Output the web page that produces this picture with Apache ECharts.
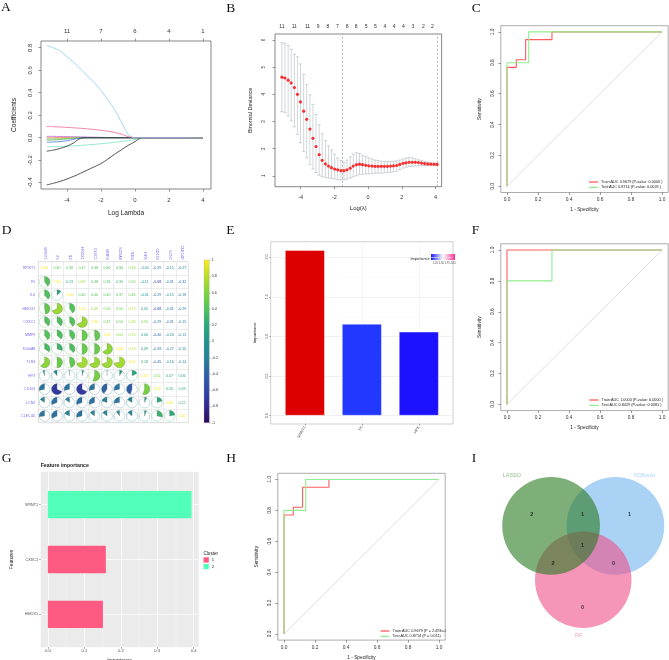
<!DOCTYPE html>
<html>
<head>
<meta charset="utf-8">
<script src="https://cdn.jsdelivr.net/npm/echarts@6/dist/echarts.min.js"></script>
<style>
  body { margin: 0; background: #fff; }
  #wrap { position: relative; width: 669px; height: 660px; }
  .p { position: absolute; }
</style>
</head>
<body>
<div id="wrap">
  <div class="p" id="pA" style="left:0;top:0;width:223px;height:220px"></div>
  <div class="p" id="pB" style="left:223px;top:0;width:223px;height:220px"></div>
  <div class="p" id="pC" style="left:446px;top:0;width:223px;height:220px"></div>
  <div class="p" id="pD" style="left:0;top:220px;width:223px;height:220px"></div>
  <div class="p" id="pE" style="left:223px;top:220px;width:240px;height:220px"></div>
  <div class="p" id="pF" style="left:446px;top:220px;width:223px;height:220px"></div>
  <div class="p" id="pG" style="left:0;top:440px;width:223px;height:220px"></div>
  <div class="p" id="pH" style="left:223px;top:440px;width:223px;height:220px"></div>
  <div class="p" id="pI" style="left:446px;top:440px;width:223px;height:220px"></div>
</div>
<script>
// ---------------- data ----------------

// A: lasso coefficient paths
var lamA = [-5.2, -4.8, -4.4, -4.0, -3.6, -3.2, -2.8, -2.4, -2.0, -1.6, -1.2, -0.8, -0.4, 0.0, 0.4, 0.8, 1.2, 1.6, 2.0, 2.4, 2.8, 3.2, 3.6, 4.0];
var coefSky = [0.82, 0.80, 0.77, 0.72, 0.67, 0.61, 0.55, 0.49, 0.42, 0.34, 0.25, 0.14, 0.03, 0, 0, 0, 0, 0, 0, 0, 0, 0, 0, 0];
var coefPink = [0.100, 0.098, 0.095, 0.092, 0.088, 0.084, 0.079, 0.073, 0.066, 0.058, 0.047, 0.032, 0.010, 0, 0, 0, 0, 0, 0, 0, 0, 0, 0, 0];
var coefBlackA = [-0.420, -0.405, -0.388, -0.367, -0.343, -0.316, -0.287, -0.259, -0.230, -0.190, -0.147, -0.107, -0.068, -0.035, 0, 0, 0, 0, 0, 0, 0, 0, 0, 0];
var coefBlackB = [-0.120, -0.110, -0.095, -0.075, -0.045, -0.005, 0, 0, 0, 0, 0, 0, 0, 0, 0, 0, 0, 0, 0, 0, 0, 0, 0, 0];
var coefAqua = [-0.080, -0.079, -0.077, -0.075, -0.072, -0.068, -0.064, -0.059, -0.054, -0.048, -0.041, -0.034, -0.026, -0.017, -0.006, 0, 0, 0, 0, 0, 0, 0, 0, 0];
var coefBlue = [-0.040, -0.038, -0.034, -0.027, -0.015, -0.002, 0, 0, 0, 0, 0, 0, 0, 0, 0, 0, 0, 0, 0, 0, 0, 0, 0, 0];
var coefGreen = [-0.022, -0.020, -0.016, -0.011, -0.005, 0, 0, 0, 0, 0, 0, 0, 0, 0, 0, 0, 0, 0, 0, 0, 0, 0, 0, 0];
var coefLime = [-0.012, -0.011, -0.009, -0.006, -0.002, 0, 0, 0, 0, 0, 0, 0, 0, 0, 0, 0, 0, 0, 0, 0, 0, 0, 0, 0];
var coefPurple = [0.012, 0.012, 0.011, 0.010, 0.009, 0.008, 0.006, 0.005, 0.003, 0.001, 0, 0, 0, 0, 0, 0, 0, 0, 0, 0, 0, 0, 0, 0];
var coefCoral = [0.005, 0.004, 0.003, 0.001, 0, 0, 0, 0, 0, 0, 0, 0, 0, 0, 0, 0, 0, 0, 0, 0, 0, 0, 0, 0];
var coefGrey = [-0.005, -0.004, -0.002, 0, 0, 0, 0, 0, 0, 0, 0, 0, 0, 0, 0, 0, 0, 0, 0, 0, 0, 0, 0, 0];
var pathsA = [coefGrey, coefCoral, coefPurple, coefLime, coefGreen, coefBlue, coefAqua, coefBlackB, coefBlackA, coefPink, coefSky];
var pathColorsA = ['#a0a0a0', '#ff8c69', '#c070d0', '#a8d84a', '#4cb860', '#4a78e0', '#7ae8c0', '#2a2a2a', '#2a2a2a', '#ee6a96', '#8ccbec'];
var lassoTopAt = [-4, -2, 0, 2, 4];
var lassoTopDf = [11, 7, 6, 4, 1];

// B: cross-validation curve
var cvLambda = [-5.11, -4.93, -4.74, -4.56, -4.37, -4.19, -4.01, -3.82, -3.64, -3.45, -3.27, -3.09, -2.90, -2.72, -2.53, -2.35, -2.17, -1.98, -1.80, -1.61, -1.43, -1.25, -1.06, -0.88, -0.69, -0.51, -0.33, -0.14, 0.04, 0.23, 0.41, 0.59, 0.78, 0.96, 1.15, 1.33, 1.51, 1.70, 1.88, 2.07, 2.25, 2.43, 2.62, 2.80, 2.99, 3.17, 3.35, 3.54, 3.72, 3.91, 4.09];
var cvMean = [4.63, 4.60, 4.52, 4.42, 4.25, 4.00, 3.72, 3.38, 3.08, 2.72, 2.38, 2.08, 1.78, 1.57, 1.44, 1.36, 1.30, 1.25, 1.22, 1.19, 1.19, 1.22, 1.28, 1.36, 1.41, 1.43, 1.41, 1.39, 1.37, 1.36, 1.35, 1.35, 1.35, 1.35, 1.35, 1.36, 1.37, 1.38, 1.42, 1.46, 1.48, 1.50, 1.50, 1.50, 1.49, 1.47, 1.45, 1.44, 1.43, 1.43, 1.42];
var cvUpper = [5.90, 5.88, 5.80, 5.66, 5.48, 5.38, 5.12, 4.73, 4.37, 3.98, 3.63, 3.26, 2.88, 2.55, 2.30, 2.10, 1.95, 1.80, 1.66, 1.56, 1.50, 1.58, 1.70, 1.80, 1.85, 1.82, 1.76, 1.71, 1.66, 1.62, 1.58, 1.56, 1.54, 1.53, 1.53, 1.53, 1.54, 1.55, 1.58, 1.62, 1.65, 1.67, 1.66, 1.63, 1.59, 1.56, 1.53, 1.50, 1.48, 1.46, 1.45];
var cvLower = [3.36, 3.32, 3.20, 3.02, 2.80, 2.52, 2.22, 1.90, 1.66, 1.42, 1.25, 1.12, 1.02, 0.97, 0.94, 0.92, 0.90, 0.88, 0.86, 0.85, 0.86, 0.88, 0.92, 0.96, 1.00, 1.04, 1.06, 1.07, 1.07, 1.08, 1.09, 1.10, 1.10, 1.11, 1.12, 1.13, 1.15, 1.17, 1.22, 1.28, 1.32, 1.34, 1.35, 1.36, 1.37, 1.37, 1.38, 1.38, 1.39, 1.39, 1.39];
var cvTopAt = [-5.11, -4.38, -3.59, -2.96, -2.39, -1.82, -1.24, -0.71, -0.12, 0.43, 1.00, 1.55, 2.10, 2.66, 3.28, 3.82];
var cvTopDf = [11, 11, 11, 9, 8, 7, 8, 8, 5, 5, 4, 4, 4, 3, 2, 2];
var cvMarks = [-1.55, 4.12];

// C, F, H: ROC curves
var rocTicks = [0, 0.2, 0.4, 0.6, 0.8, 1];
var diagX = [0, 1];
var lassoTrainFpr = [0, 0, 0.06, 0.06, 0.12, 0.12, 0.29, 0.29, 1];
var lassoTrainTpr = [0, 0.77, 0.77, 0.82, 0.82, 0.95, 0.95, 1, 1];
var lassoTestFpr = [0, 0, 0.14, 0.14, 1];
var lassoTestTpr = [0, 0.80, 0.80, 1, 1];
var rfTrainFpr = [0, 0, 1];
var rfTrainTpr = [0, 1, 1];
var rfTestFpr = [0, 0, 0.29, 0.29, 1];
var rfTestTpr = [0, 0.80, 0.80, 1, 1];
var combTrainFpr = [0, 0, 0.06, 0.06, 0.12, 0.12, 0.29, 0.29, 1];
var combTrainTpr = [0, 0.77, 0.77, 0.82, 0.82, 0.95, 0.95, 1, 1];
var combTestFpr = [0, 0, 0.14, 0.14, 1];
var combTestTpr = [0, 0.80, 0.80, 1, 1];
var lassoRocNames = ['Train:AUC 0.9679 (P-value: 0.0000 )', 'Test:AUC 0.8714 (P-value: 0.0026 )'];
var rfRocNames = ['Train:AUC 1.0000 (P-value: 0.0000 )', 'Test:AUC 0.8429 (P-value: 0.0081 )'];
var combRocNames = ['Train:AUC 0.9679 (P = 2.493e-08)', 'Test:AUC 0.8714 (P = 0.011)'];

// D: correlation matrix
var corVars = ['SPINT1', 'F5', 'IL6', 'HMOX1', 'CXXC1', 'MMP9', 'S100A8', 'TLR4', 'HPX', 'CD163', 'LCN2', 'CLEC4D'];
var corMat = [
  [1.00, 0.40, 0.38, 0.47, 0.38, 0.40, 0.34, 0.63, -0.05, -0.29, -0.15, -0.27],
  [0.40, 1.00, 0.13, 0.69, 0.38, 0.36, 0.30, 0.50, -0.11, -0.68, -0.31, -0.32],
  [0.38, 0.13, 1.00, 0.40, 0.40, 0.40, 0.37, 0.46, -0.01, -0.29, -0.15, -0.18],
  [0.47, 0.69, 0.40, 1.00, 0.69, 0.50, 0.50, 0.72, 0.05, -0.68, -0.31, -0.29],
  [0.38, 0.38, 0.40, 0.69, 1.00, 0.47, 0.50, 0.69, 0.55, -0.29, -0.31, -0.15],
  [0.40, 0.36, 0.40, 0.50, 0.47, 1.00, 0.65, 0.70, 0.00, -0.40, -0.20, -0.15],
  [0.34, 0.30, 0.37, 0.50, 0.50, 0.65, 1.00, 0.73, 0.09, -0.28, -0.27, -0.10],
  [0.63, 0.50, 0.46, 0.72, 0.69, 0.70, 0.73, 1.00, 0.18, -0.45, -0.16, -0.14],
  [-0.05, -0.11, -0.01, 0.05, 0.55, 0.00, 0.09, 0.18, 1.00, 0.55, 0.07, 0.06],
  [-0.29, -0.68, -0.29, -0.68, -0.29, -0.40, -0.28, -0.45, 0.55, 1.00, 0.20, 0.28],
  [-0.15, -0.31, -0.15, -0.31, -0.31, -0.20, -0.27, -0.16, 0.07, 0.20, 1.00, 0.22],
  [-0.27, -0.32, -0.18, -0.29, -0.15, -0.15, -0.10, -0.14, 0.06, 0.28, 0.22, 1.00]
];
var corBarTicks = [-1, -0.8, -0.6, -0.4, -0.2, 0, 0.2, 0.4, 0.6, 0.8, 1];
var corPalette = ['#2c0a5c', '#33288f', '#2f45a8', '#2d62a6', '#27809a', '#21938c', '#2aa87a', '#52c25a', '#80d43c', '#b9df2a', '#fde725'];

// E: random forest importance
var rfGenes = ['SPINT1', 'F5', 'HPX'];
var rfImportance = [2.09, 1.16, 1.06];
var rfColors = ['#dd0000', '#2238ff', '#1d12ff'];
var rfTicks = [0, 0.5, 1, 1.5, 2];
var rfMinorTicks = [0.25, 0.75, 1.25, 1.75];
var rfLegendTicks = [1.25, 1.5, 1.75, 2.0];

// G: XGBoost importance
var xgbFeatures = ['HMOX1', 'CXXC1', 'SPINT1'];
var xgbGain = [0.151, 0.159, 0.394];
var xgbCluster = ['1', '1', '2'];
var clusterNames = ['1', '2'];
var clusterColors = ['#ff5a82', '#52ffb8'];
var xgbTicks = [0, 0.1, 0.2, 0.3, 0.4];
var xgbMinorTicks = [0.05, 0.15, 0.25, 0.35];

// I: Venn
var vennSets = ['LASSO', 'XGBoost', 'RF'];
var vennCx = [-0.5, 0.5, 0.0];
var vennCy = [0.0, 0.0, -0.84];
var vennR = [0.76, 0.76, 0.75];
var vennFill = ['#2a7a20', '#71b4ee', '#ee508a'];
var vennDrawOrder = [1, 2, 0];
var vennNameX = [-1.11, 0.95, -0.07];
var vennNameY = [0.79, 0.79, -1.70];
var vennNameColor = ['#74b06c', '#9fcbf2', '#f28cb1'];
var vennCountX = [-0.80, -0.01, 0.72, -0.01, -0.47, 0.47, -0.01];
var vennCountY = [0.18, 0.18, 0.18, -0.30, -0.58, -0.58, -1.27];
var vennCounts = [2, 1, 1, 1, 2, 0, 0];

// ---------------- helpers ----------------
var FONT = 'Liberation Sans';

function letterTitle(t, x, y) {
  return { text: t, left: x, top: y, padding: 0,
    textStyle: { fontFamily: 'Liberation Serif', fontSize: 13.5, fontWeight: 'normal', color: '#111' } };
}

function labelFrom(at, labels) {
  return function (v) {
    var best = 0;
    for (var i = 1; i < at.length; i++) {
      if (Math.abs(at[i] - v) < Math.abs(at[best] - v)) best = i;
    }
    return String(labels[best]);
  };
}

function fix1(v) { return v.toFixed(1); }

// base-R style axis
function rAxis(min, max, ticks, o) {
  o = o || {};
  return {
    type: 'value', min: min, max: max, position: o.position, gridIndex: o.gridIndex || 0,
    name: o.name || '', nameLocation: 'middle', nameGap: o.nameGap || 10, nameRotate: o.nameRotate || 0,
    nameTextStyle: { fontFamily: FONT, fontSize: o.nameSize || 6, color: '#222' },
    axisLine: { show: false, onZero: false },
    axisTick: { show: o.ticks !== false, customValues: ticks, length: 2.5, lineStyle: { color: '#555', width: 0.6 } },
    axisLabel: { customValues: ticks, fontFamily: FONT, fontSize: o.labelSize || 5, color: '#333',
      margin: o.margin || 5, rotate: o.rotate || 0, formatter: o.formatter },
    splitLine: { show: false }
  };
}

function rGrid(left, top, width, height, border) {
  return { left: left, top: top, width: width, height: height, show: true, outerBoundsMode: 'none',
    borderColor: border || '#555', borderWidth: 0.7, backgroundColor: 'transparent' };
}

function pairs(xs, ys) {
  return xs.map(function (x, i) { return [x, ys[i]]; });
}

// ---------------- A ----------------
var chartA = echarts.init(document.getElementById('pA'));
chartA.setOption({
  animation: false,
  textStyle: { fontFamily: FONT },
  title: letterTitle('A', 1, 0.5),
  grid: rGrid(41, 41, 170, 148),
  xAxis: [
    rAxis(-5.53, 4.47, lassoTopAt, { name: 'Log Lambda', nameGap: 21, margin: 8, labelSize: 6, nameSize: 6.5 }),
    rAxis(-5.53, 4.47, lassoTopAt, { position: 'top', margin: 7, labelSize: 6, formatter: labelFrom(lassoTopAt, lassoTopDf) })
  ],
  yAxis: rAxis(-0.456, 0.86, [-0.4, -0.2, 0, 0.2, 0.4, 0.6, 0.8],
    { name: 'Coefficients', nameGap: 23, nameRotate: 90, rotate: 90, margin: 8, labelSize: 6, nameSize: 6.5, formatter: fix1 }),
  series: pathsA.map(function (p, k) {
    return { type: 'line', data: pairs(lamA, p), symbol: 'none', smooth: 0.3, silent: true,
      lineStyle: { color: pathColorsA[k], width: 0.8 } };
  })
});

// ---------------- B ----------------
var chartB = echarts.init(document.getElementById('pB'));
chartB.setOption({
  animation: false,
  textStyle: { fontFamily: FONT },
  title: letterTitle('B', 3.3, 1),
  grid: rGrid(52, 34, 166.6, 152.7),
  xAxis: [
    rAxis(-5.52, 4.36, [-4, -2, 0, 2, 4], { name: 'Log(λ)', nameGap: 19, margin: 8, labelSize: 5.5 }),
    rAxis(-5.52, 4.36, cvTopAt, { position: 'top', margin: 4.5, labelSize: 5, ticks: false, formatter: labelFrom(cvTopAt, cvTopDf) })
  ],
  yAxis: rAxis(0.6, 6.22, [1, 2, 3, 4, 5, 6],
    { name: 'Binomial Deviance', nameGap: 22, nameRotate: 90, rotate: 90, margin: 8.5, labelSize: 4.5, nameSize: 5.5 }),
  series: [
    {
      type: 'custom', silent: true,
      data: cvLambda.map(function (x, i) { return [x, cvLower[i], cvUpper[i]]; }),
      encode: { x: 0, y: [1, 2] },
      renderItem: function (params, api) {
        var x = api.value(0);
        var lo = api.coord([x, api.value(1)]);
        var hi = api.coord([x, api.value(2)]);
        var cap = 1.7;
        var st = { stroke: '#a9b6bd', lineWidth: 0.55 };
        return { type: 'group', children: [
          { type: 'line', shape: { x1: lo[0], y1: lo[1], x2: hi[0], y2: hi[1] }, style: st },
          { type: 'line', shape: { x1: lo[0] - cap, y1: lo[1], x2: lo[0] + cap, y2: lo[1] }, style: st },
          { type: 'line', shape: { x1: hi[0] - cap, y1: hi[1], x2: hi[0] + cap, y2: hi[1] }, style: st }
        ] };
      }
    },
    {
      type: 'scatter', data: pairs(cvLambda, cvMean), symbolSize: 3.2, silent: true,
      itemStyle: { color: '#ff0000' },
      markLine: {
        silent: true, symbol: ['none', 'none'], label: { show: false },
        lineStyle: { type: [2, 2], color: '#888', width: 0.6 },
        data: cvMarks.map(function (v) { return { xAxis: v }; })
      }
    }
  ]
});

// ---------------- ROC panels ----------------
function rocChart(id, L, top, trF, trT, teF, teT, names, legendLeft, legendTop) {
  var chart = echarts.init(document.getElementById(id));
  chart.setOption({
    animation: false,
    textStyle: { fontFamily: FONT },
    title: letterTitle(L[0], L[1], L[2]),
    grid: rGrid(54.8, top, 167.4, 166.8, '#8a8a8a'),
    xAxis: rAxis(-0.04, 1.04, rocTicks, { name: '1 - Specificity', nameGap: 12, margin: 5, labelSize: 4.8, nameSize: 4.8, formatter: fix1 }),
    yAxis: rAxis(-0.04, 1.04, rocTicks, { name: 'Sensitivity', nameGap: 13, nameRotate: 90, rotate: 90, margin: 5.5, labelSize: 4.8, nameSize: 4.8, formatter: fix1 }),
    legend: {
      left: legendLeft, top: legendTop, orient: 'vertical', itemGap: 1.4, itemWidth: 9, itemHeight: 1.3,
      icon: 'rect', padding: 0, textStyle: { fontSize: 3.8, color: '#222', padding: [0, 0, 0, -2] },
      data: names
    },
    series: [
      { type: 'line', data: pairs(diagX, diagX), symbol: 'none', silent: true, lineStyle: { color: '#c8c8c8', width: 0.6 } },
      { name: names[0], type: 'line', data: pairs(trF, trT), symbol: 'none', silent: true,
        itemStyle: { color: '#ff5c5c' }, lineStyle: { color: '#ff5c5c', width: 1.1 } },
      { name: names[1], type: 'line', data: pairs(teF, teT), symbol: 'none', silent: true,
        itemStyle: { color: '#8fee8f' }, lineStyle: { color: '#8fee8f', width: 1.1 } }
    ]
  });
}
rocChart('pC', ['C', 25.7, 1.5], 25.7, lassoTrainFpr, lassoTrainTpr, lassoTestFpr, lassoTestTpr, lassoRocNames, 143, 180);
rocChart('pF', ['F', 25.7, 3], 23.8, rfTrainFpr, rfTrainTpr, rfTestFpr, rfTestTpr, rfRocNames, 143.5, 178);
rocChart('pH', ['H', 3.3, 11.5], 33.3, combTrainFpr, combTrainTpr, combTestFpr, combTestTpr, combRocNames, 157.5, 189);

// ---------------- D ----------------
function corColor(v) { return echarts.color.lerp((v + 1) / 2, corPalette); }

var corCells = [];
corMat.forEach(function (row, i) {
  row.forEach(function (v, j) { corCells.push([j, i, v]); });
});

var chartD = echarts.init(document.getElementById('pD'));
chartD.setOption({
  animation: false,
  textStyle: { fontFamily: FONT },
  title: letterTitle('D', 1.7, 3),
  grid: [
    { left: 38.3, top: 41.7, width: 150, height: 161, show: true, borderColor: '#d8d8d8', borderWidth: 0.6, outerBoundsMode: 'none' },
    { left: 204, top: 40, width: 5.3, height: 162.7, outerBoundsMode: 'none' }
  ],
  xAxis: [
    { type: 'category', gridIndex: 0, data: corVars, position: 'top', boundaryGap: true,
      axisLine: { show: false }, axisTick: { show: false },
      axisLabel: { rotate: 90, fontSize: 3.6, color: '#7b68ee', margin: 2, interval: 0 },
      splitLine: { show: true, interval: 0, lineStyle: { color: '#d8d8d8', width: 0.5 } } },
    { type: 'value', gridIndex: 1, min: 0, max: 1, show: false }
  ],
  yAxis: [
    { type: 'category', gridIndex: 0, data: corVars, inverse: true, boundaryGap: true,
      axisLine: { show: false }, axisTick: { show: false },
      axisLabel: { fontSize: 3.6, color: '#7b68ee', margin: 3, interval: 0 },
      splitLine: { show: true, interval: 0, lineStyle: { color: '#d8d8d8', width: 0.5 } } },
    { type: 'value', gridIndex: 1, min: -1, max: 1, position: 'right',
      axisLine: { show: false, onZero: false },
      axisTick: { show: true, customValues: corBarTicks, length: 1.5, lineStyle: { color: '#666', width: 0.4 } },
      axisLabel: { customValues: corBarTicks, fontSize: 3.6, color: '#333', margin: 2.5 },
      splitLine: { show: false } }
  ],
  series: [
    {
      type: 'custom', xAxisIndex: 0, yAxisIndex: 0, silent: true, data: corCells,
      renderItem: function (params, api) {
        var j = api.value(0), i = api.value(1), r = api.value(2);
        var c = api.coord([j, i]);
        var s = api.size([1, 1]);
        var rad = Math.min(s[0], s[1]) / 2 * 0.86;
        var col = corColor(r);
        if (i > j) {
          var a = Math.PI * 2 * Math.abs(r);
          var top = -Math.PI / 2;
          var start = r >= 0 ? top : top - a;
          var end = r >= 0 ? top + a : top;
          return { type: 'group', children: [
            { type: 'circle', shape: { cx: c[0], cy: c[1], r: rad }, style: { fill: null, stroke: col, lineWidth: 0.5, opacity: 0.55 } },
            { type: 'sector', shape: { cx: c[0], cy: c[1], r: rad, r0: 0, startAngle: start, endAngle: end, clockwise: true },
              style: { fill: col, stroke: '#666', lineWidth: 0.25 } }
          ] };
        }
        return { type: 'text', x: c[0], y: c[1],
          style: { text: r.toFixed(2), fill: col, fontSize: 3.6, fontFamily: FONT, align: 'center', verticalAlign: 'middle' } };
      }
    },
    {
      type: 'custom', xAxisIndex: 1, yAxisIndex: 1, silent: true, data: [[0, 1]],
      renderItem: function (params, api) {
        var a = api.coord([0, 1]);
        var b = api.coord([1, -1]);
        var stops = corPalette.map(function (col, k) { return { offset: 1 - k / (corPalette.length - 1), color: col }; }).reverse();
        return { type: 'rect', shape: { x: a[0], y: a[1], width: b[0] - a[0], height: b[1] - a[1] },
          style: { fill: new echarts.graphic.LinearGradient(0, 0, 0, 1, stops), stroke: '#aaa', lineWidth: 0.3 } };
      }
    }
  ]
});

// ---------------- E ----------------
var impMin = Math.min.apply(null, rfImportance);
var impMax = Math.max.apply(null, rfImportance);
var chartE = echarts.init(document.getElementById('pE'));
chartE.setOption({
  animation: false,
  textStyle: { fontFamily: FONT },
  title: letterTitle('E', 3.3, 3),
  grid: { left: 47.7, top: 21.7, width: 182.3, height: 182.3, show: true, borderColor: '#b0b0b0', borderWidth: 0.6, outerBoundsMode: 'none' },
  xAxis: {
    type: 'value', min: 0.4, max: 3.6,
    axisLine: { show: false, onZero: false },
    axisTick: { show: true, customValues: [1, 2, 3], length: 1.5, lineStyle: { color: '#555', width: 0.5 } },
    axisLabel: { customValues: [1, 2, 3], rotate: 60, fontSize: 3.8, color: '#4d4d4d', margin: 2.5,
      formatter: labelFrom([1, 2, 3], rfGenes) },
    splitLine: { show: true, lineStyle: { color: '#ececec', width: 0.5 } }
  },
  yAxis: [
    { type: 'value', min: -0.1045, max: 2.1945, name: 'Importance', nameLocation: 'middle', nameGap: 8, nameRotate: 90,
      nameTextStyle: { fontSize: 4.2, color: '#222' },
      axisLine: { show: false, onZero: false },
      axisTick: { show: true, customValues: rfTicks, length: 1.5, lineStyle: { color: '#555', width: 0.5 } },
      axisLabel: { customValues: rfTicks, rotate: 90, fontSize: 3.6, color: '#4d4d4d', margin: 1.8, formatter: fix1 },
      splitLine: { show: true, lineStyle: { color: '#e6e6e6', width: 0.6 } } },
    { type: 'value', min: -0.1045, max: 2.1945, position: 'right',
      axisLine: { show: false, onZero: false }, axisLabel: { show: false },
      axisTick: { show: false, customValues: rfMinorTicks },
      splitLine: { show: true, lineStyle: { color: '#f3f3f3', width: 0.4 } } }
  ],
  series: [{
    type: 'bar', barWidth: 40, silent: true,
    data: rfImportance.map(function (v, i) { return { value: [i + 1, v], itemStyle: { color: rfColors[i] } }; }),
    itemStyle: { borderColor: 'rgba(255,255,255,0.55)', borderWidth: 0.8 }
  }],
  graphic: [
    { type: 'text', x: 206.5, y: 39.3, style: { text: 'Importance', fontSize: 3.8, fill: '#222', align: 'right', verticalAlign: 'middle', fontFamily: FONT } },
    { type: 'rect', shape: { x: 208, y: 34, width: 24, height: 6 },
      style: { fill: new echarts.graphic.LinearGradient(0, 0, 1, 0, [
        { offset: 0, color: '#1a1aff' }, { offset: 0.5, color: '#ffffff' }, { offset: 1, color: '#ff2a95' }]) } }
  ].concat(rfLegendTicks.map(function (t) {
    return { type: 'text', x: 208 + 24 * (t - impMin) / (impMax - impMin), y: 41.5,
      style: { text: t.toFixed(2), fontSize: 2.6, fill: '#444', align: 'center', verticalAlign: 'top', fontFamily: FONT } };
  }))
});

// ---------------- G ----------------
function xgbBars(cluster) {
  var d = [];
  xgbFeatures.forEach(function (f, i) { if (xgbCluster[i] === cluster) d.push([xgbGain[i], i + 1]); });
  return d;
}
function xgbRect(params, api) {
  var v = api.value(0), y = api.value(1);
  var a = api.coord([0, y + 0.25]);
  var b = api.coord([v, y - 0.25]);
  return { type: 'rect', shape: { x: a[0], y: a[1], width: b[0] - a[0], height: b[1] - a[1] }, style: { fill: api.visual('color') } };
}
var chartG = echarts.init(document.getElementById('pG'));
chartG.setOption({
  animation: false,
  textStyle: { fontFamily: FONT },
  title: [
    letterTitle('G', 1.7, 11.5),
    { text: 'Feature importance', left: 40.7, top: 23.5, padding: 0, textStyle: { fontSize: 5.2, fontWeight: 'bold', color: '#222' } }
  ],
  grid: { left: 40.7, top: 31.7, width: 158, height: 175.6, show: true, backgroundColor: '#ebebeb', borderWidth: 0, outerBoundsMode: 'none' },
  xAxis: [
    { type: 'value', min: -0.0197, max: 0.4137, name: 'Importance', nameLocation: 'middle', nameGap: 7,
      nameTextStyle: { fontSize: 5, color: '#222' },
      axisLine: { show: false, onZero: false },
      axisTick: { show: true, customValues: xgbTicks, length: 1.5, lineStyle: { color: '#444', width: 0.5 } },
      axisLabel: { customValues: xgbTicks, fontSize: 4.2, color: '#4d4d4d', margin: 2, formatter: fix1 },
      splitLine: { show: true, lineStyle: { color: '#ffffff', width: 0.7 } } },
    { type: 'value', min: -0.0197, max: 0.4137, position: 'top',
      axisLine: { show: false, onZero: false }, axisLabel: { show: false },
      axisTick: { show: false, customValues: xgbMinorTicks },
      splitLine: { show: true, lineStyle: { color: '#f6f6f6', width: 0.4 } } }
  ],
  yAxis: {
    type: 'value', min: 0.4, max: 3.6, name: 'Features', nameLocation: 'middle', nameGap: 15, nameRotate: 90,
    nameTextStyle: { fontSize: 5, color: '#222' },
    axisLine: { show: false, onZero: false },
    axisTick: { show: true, customValues: [1, 2, 3], length: 1.5, lineStyle: { color: '#444', width: 0.5 } },
    axisLabel: { customValues: [1, 2, 3], fontSize: 3.8, color: '#4d4d4d', margin: 2.5, formatter: labelFrom([1, 2, 3], xgbFeatures) },
    splitLine: { show: true, lineStyle: { color: '#ffffff', width: 0.7 } }
  },
  legend: {
    left: 203.5, top: 117.3, orient: 'vertical', itemWidth: 5.3, itemHeight: 5.3, itemGap: 1.3, icon: 'rect', padding: 0,
    textStyle: { fontSize: 4.2, color: '#222', padding: [0, 0, 0, -2] }, data: clusterNames
  },
  graphic: [{ type: 'text', x: 203.5, y: 113.5, style: { text: 'Cluster', fontSize: 4.6, fill: '#222', verticalAlign: 'middle', fontFamily: FONT } }],
  series: clusterNames.map(function (cn, k) {
    return { name: cn, type: 'custom', xAxisIndex: 0, silent: true, data: xgbBars(cn), renderItem: xgbRect,
      itemStyle: { color: clusterColors[k] } };
  })
});

// ---------------- I ----------------
var chartI = echarts.init(document.getElementById('pI'));
chartI.setOption({
  animation: false,
  textStyle: { fontFamily: FONT },
  title: letterTitle('I', 25.7, 11.5),
  grid: { left: 21.5, top: 24.7, width: 192.9, height: 176.8, outerBoundsMode: 'none' },
  xAxis: { type: 'value', min: -1.8, max: 1.2, show: false },
  yAxis: { type: 'value', min: -1.8, max: 0.95, show: false },
  series: [
    {
      type: 'custom', silent: true,
      data: vennDrawOrder.map(function (k) { return [vennCx[k], vennCy[k], vennR[k], k]; }),
      renderItem: function (params, api) {
        var c = api.coord([api.value(0), api.value(1)]);
        var r = api.size([api.value(2), 0])[0];
        return { type: 'circle', shape: { cx: c[0], cy: c[1], r: r }, style: { fill: vennFill[api.value(3)], opacity: 0.6 } };
      }
    },
    {
      type: 'scatter', symbolSize: 0, silent: true,
      data: vennCounts.map(function (n, i) { return [vennCountX[i], vennCountY[i], n]; }),
      label: { show: true, position: 'inside', fontSize: 5.5, fontWeight: 'bold', color: '#111',
        formatter: function (p) { return String(p.value[2]); } }
    },
    {
      type: 'scatter', symbolSize: 0, silent: true,
      data: vennSets.map(function (s, i) {
        return { value: [vennNameX[i], vennNameY[i]], name: s, label: { color: vennNameColor[i] } };
      }),
      label: { show: true, position: 'inside', fontSize: 5.5, formatter: function (p) { return p.name; } }
    }
  ]
});
</script>
</body>
</html>
